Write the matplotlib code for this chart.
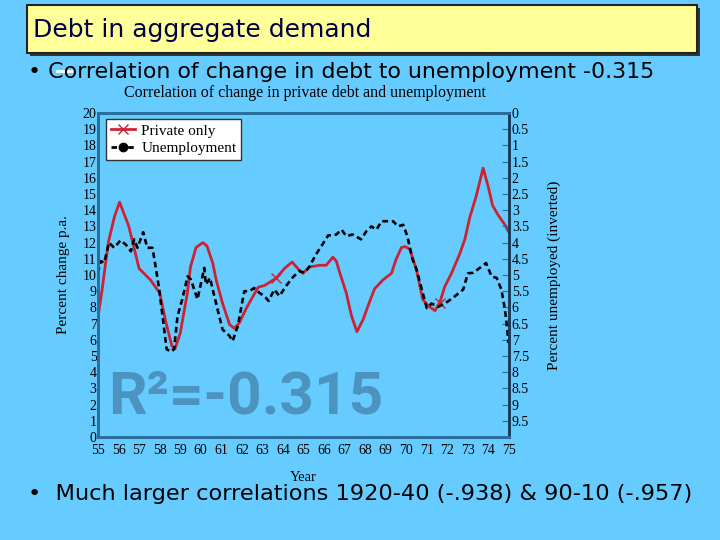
import numpy as np
import matplotlib
matplotlib.use('Agg')
import matplotlib.pyplot as plt
from matplotlib.patches import Rectangle
from matplotlib.lines import Line2D

# change in private debt, percent p.a. (left axis)
years_private = [55.0, 55.2, 55.5, 55.8, 56.05, 56.5, 57.0, 57.55, 58.0, 58.3,
                 58.6, 58.75, 59.0, 59.35, 59.5, 59.77, 60.1, 60.3, 60.58, 60.75,
                 61.05, 61.4, 61.63, 61.88, 62.2, 62.55, 62.8, 63.1, 63.67, 64.07,
                 64.45, 64.72, 64.97, 65.3, 65.78, 66.1, 66.43, 66.6, 66.75, 67.08,
                 67.33, 67.6, 67.9, 68.2, 68.46, 68.87, 69.28, 69.5, 69.77, 69.95,
                 70.17, 70.5, 70.8, 71.06, 71.4, 71.63, 71.88, 72.2, 72.6, 72.85,
                 73.1, 73.4, 73.74, 73.98, 74.2, 74.47, 74.8, 74.97]
private = [7.4, 9.1, 12.0, 13.6, 14.5, 13.0, 10.4, 9.7, 8.9, 7.1,
           5.6, 5.45, 6.4, 8.9, 10.5, 11.7, 12.0, 11.8, 10.75, 9.7,
           8.3, 6.95, 6.7, 7.05, 7.9, 8.7, 9.25, 9.35, 9.8, 10.4,
           10.8, 10.4, 10.1, 10.5, 10.6, 10.6, 11.1, 10.85, 10.2, 8.9,
           7.5, 6.5, 7.25, 8.3, 9.15, 9.7, 10.1, 10.95, 11.7, 11.75,
           11.6, 10.3, 8.5, 8.1, 7.8, 8.3, 9.3, 10.1, 11.3, 12.2,
           13.6, 14.85, 16.6, 15.5, 14.3, 13.7, 13.1, 12.7]

# unemployment rate, percent (right axis, inverted)
years_unemp = [55.0, 55.13, 55.3, 55.54, 55.78, 56.1, 56.35, 56.6, 56.76, 56.92,
               57.2, 57.4, 57.65, 57.8, 57.98, 58.14, 58.34, 58.55, 58.7, 58.87,
               59.1, 59.36, 59.52, 59.84, 60.0, 60.17, 60.25, 60.45, 60.66, 60.9,
               61.06, 61.4, 61.55, 61.8, 62.12, 62.37, 62.6, 62.85, 63.1, 63.3,
               63.58, 63.83, 64.15, 64.48, 64.8, 65.05, 65.3, 65.6, 65.87, 66.2,
               66.6, 66.85, 67.08, 67.4, 67.8, 68.06, 68.3, 68.55, 68.8, 69.36,
               69.6, 69.85, 70.05, 70.3, 70.5, 70.8, 71.0, 71.23, 71.55, 71.88,
               72.28, 72.77, 73.0, 73.26, 73.58, 73.88, 74.15, 74.4, 74.63, 74.8,
               74.9, 74.97]
unemp = [4.94, 4.57, 4.62, 4.0, 4.16, 3.93, 4.06, 4.27, 3.9, 4.16,
         3.68, 4.16, 4.16, 4.73, 5.45, 6.27, 7.29, 7.37, 7.29, 6.27,
         5.75, 5.04, 5.14, 5.75, 5.29, 4.78, 5.29, 5.09, 5.65, 6.27,
         6.68, 6.88, 7.04, 6.58, 5.5, 5.5, 5.4, 5.55, 5.65, 5.8,
         5.45, 5.65, 5.34, 5.07, 4.88, 4.93, 4.73, 4.37, 4.11, 3.78,
         3.75, 3.6, 3.8, 3.75, 3.9, 3.65, 3.5, 3.6, 3.34, 3.34,
         3.5, 3.45, 3.8, 4.5, 4.83, 5.55, 6.02, 5.88, 5.98, 5.88,
         5.7, 5.45, 4.95, 4.93, 4.78, 4.63, 5.04, 5.09, 5.45, 6.06,
         6.58, 7.1]

year_ticks = list(range(55, 76))
left_ticks = list(range(0, 21))
right_ticks = [x * 0.5 for x in range(0, 20)]

bg = '#66CCFF'
spine_col = '#2A6E9C'
serif = ['Liberation Serif', 'DejaVu Serif']

fig = plt.figure(figsize=(7.2, 5.4), dpi=100)
fig.patch.set_facecolor(bg)

# slide title box
fig.add_artist(Rectangle((30 / 720, 1 - 56 / 540), 670 / 720, 48 / 540,
                         transform=fig.transFigure, facecolor='#333333', edgecolor='none'))
fig.add_artist(Rectangle((27 / 720, 1 - 53 / 540), 670 / 720, 48 / 540,
                         transform=fig.transFigure, facecolor='#FFFF99',
                         edgecolor='#222222', linewidth=1.5))
fig.text(33 / 720, 1 - 30 / 540, 'Debt in aggregate demand', fontsize=18,
         color='#000044', va='center', ha='left')
fig.text(28 / 720, 1 - 72 / 540,
         '• Correlation of change in debt to unemployment -0.315',
         fontsize=15.9, color='black', va='center', ha='left')
fig.add_artist(Line2D([57 / 720, 74 / 720], [1 - 71 / 540, 1 - 71 / 540],
                      transform=fig.transFigure, color='white', linewidth=2))
fig.text(28 / 720, 1 - 494 / 540,
         '•  Much larger correlations 1920-40 (-.938) & 90-10 (-.957)',
         fontsize=16.2, color='black', va='center', ha='left')
fig.text(305 / 720, 1 - 93 / 540,
         'Correlation of change in private debt and unemployment',
         fontfamily=serif, fontsize=11.5, ha='center', va='center')

ax = fig.add_axes([98 / 720, 1 - 437 / 540, 411 / 720, 324 / 540])
ax.set_facecolor(bg)
ax2 = ax.twinx()

ax.plot(years_private, private, color='#CC2233', linewidth=2,
        marker='x', markersize=7, markevery=[28, 55], label='Private only')
ax2.plot(years_unemp, unemp, color='black', linewidth=1.9,
         linestyle=(0, (2.2, 1.4)), label='Unemployment')

ax.set_xlim(55, 75)
ax.set_ylim(0, 20)
ax2.set_ylim(10, 0)

ax.set_xticks(year_ticks)
ax.set_xticklabels([str(y) for y in year_ticks], fontfamily=serif, fontsize=10)
ax.set_yticks(left_ticks)
ax.set_yticklabels([str(v) for v in left_ticks], fontfamily=serif, fontsize=10)
ax2.set_yticks(right_ticks)
ax2.set_yticklabels(['%g' % v for v in right_ticks], fontfamily=serif, fontsize=10)

ax.tick_params(axis='x', length=0, pad=5)
ax.tick_params(axis='y', length=0, pad=1)
ax2.tick_params(axis='y', direction='in', length=5, color=spine_col, pad=2)
for a in (ax, ax2):
    for s in a.spines.values():
        s.set_color(spine_col)
        s.set_linewidth(2)
ax2.spines['right'].set_color('#1a3a55')

ax.set_xlabel('Year', fontfamily=serif, fontsize=10.5, labelpad=10)
ax.set_ylabel('Percent change p.a.', fontfamily=serif, fontsize=11, labelpad=9)
ax2.set_ylabel('Percent unemployed (inverted)', fontfamily=serif, fontsize=11,
               labelpad=13)

ax.text(0.025, 0.072, 'R²=-0.315', transform=ax.transAxes, fontsize=43.5,
        fontfamily=['Roboto', 'DejaVu Sans'], fontweight='bold', color='#4C93C0',
        ha='left', va='baseline', zorder=0)

h1 = Line2D([], [], color='#CC2233', linewidth=2, marker='x', markersize=7)
h2 = Line2D([], [], color='black', linewidth=2, linestyle=(0, (2, 1)),
            marker='o', markersize=6)
leg = ax2.legend([h1, h2], ['Private only', 'Unemployment'], loc='upper left',
                 bbox_to_anchor=(0.02, 0.98), prop={'family': serif, 'size': 11},
                 fancybox=False, framealpha=1, edgecolor='#333333',
                 handlelength=1.6, handletextpad=0.4, borderpad=0.3,
                 labelspacing=0.25, borderaxespad=0)

fig.savefig('out.png', dpi=100, facecolor=bg)
